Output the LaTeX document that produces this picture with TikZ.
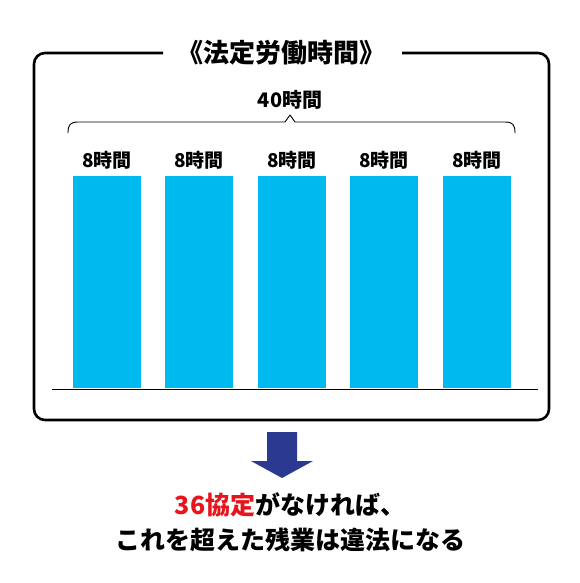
\documentclass[tikz,border=0pt]{standalone}
\usepackage{fontspec}
\setmainfont{Noto Sans CJK JP}
\definecolor{barblue}{HTML}{00B9EF}
\definecolor{arrowblue}{HTML}{2B3990}
\definecolor{hred}{HTML}{E8141B}
\begin{document}
\begin{tikzpicture}[x=1pt,y=-1pt,
  bar/.style={fill=barblue,draw=none},
  hourlbl/.style={font=\fontsize{19}{19}\selectfont\bfseries,inner sep=0pt},
  frameline/.style={line width=2.6pt,rounded corners=11pt},
  bracel/.style={line width=0.9pt,line cap=round,line join=round}]
\useasboundingbox (0,0) rectangle (580,583);
% frame
\node[font=\fontsize{26}{26}\selectfont\bfseries,inner sep=0pt] (title) at (281,53) {《法定労働時間》};
\draw[frameline] (163,53) -- (34,53) -- (34,420) -- (549,420) -- (549,53) -- (402,53);
% total label
\node[font=\fontsize{20}{20}\selectfont\bfseries,inner sep=0pt] (total) at (290,100) {40時間};
% brace
\draw[bracel] (68,133) .. controls (68,125) and (70,122) .. (78,122) -- (285,122) -- (290,115) -- (295,122) -- (505,122) .. controls (513,122) and (515,125) .. (515,133);
% bars
\foreach \i/\x in {1/73,2/165,3/258,4/350,5/443}{
  \fill[bar] (\x,176) rectangle ++(68,212);
  \node[hourlbl] (h\i) at (\x+34,160) {8時間};
}
\draw[line width=0.8pt] (52,389) -- (538,389);
% arrow
\fill[arrowblue] (267,432) -- (297,432) -- (297,461) -- (313,461) -- (282,478) -- (251,461) -- (267,461) -- cycle;
% conclusion
\node[font=\fontsize{25}{25}\selectfont\bfseries,inner sep=0pt] (c1) at (290,505) {\textcolor{hred}{36協定}がなければ、};
\node[font=\fontsize{25}{25}\selectfont\bfseries,inner sep=0pt] (c2) at (290,540) {これを超えた残業は違法になる};
\end{tikzpicture}
\end{document}
